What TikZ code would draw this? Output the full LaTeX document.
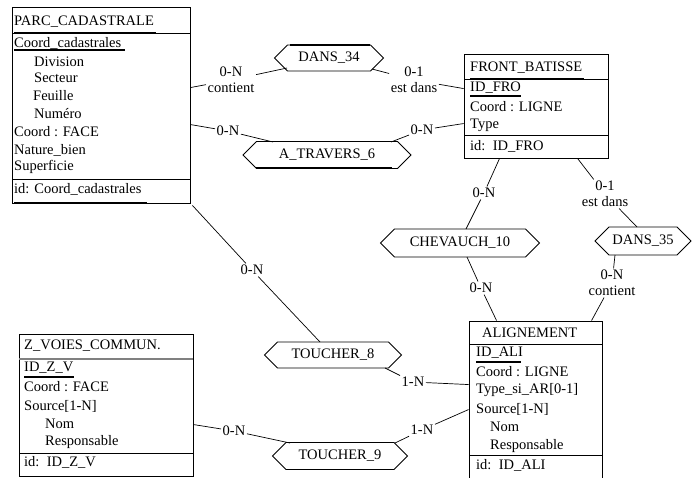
\documentclass[tikz,border=0pt]{standalone}
\usepackage{fontspec}
\setmainfont{Liberation Serif}
\usetikzlibrary{shapes.symbols}
\begin{document}
\begin{tikzpicture}[x=1pt,y=-1pt, font=\fontsize{14.5}{16}\selectfont,
  ent/.style={draw, line width=0.9pt, inner sep=0pt},
  att/.style={anchor=west, inner sep=0pt},
  rel/.style={draw, shape=signal, signal to=west and east, inner sep=0pt, line width=0.9pt, minimum height=26pt},
  lab/.style={inner sep=1.5pt, align=center},
  conn/.style={line width=0.7pt},
  bar/.style={line width=2.6pt},
  thin/.style={line width=0.8pt}]
\useasboundingbox (0,0) rectangle (694,477);

% ---------- entities ----------
\node[ent, minimum width=178pt, minimum height=196pt] (parc) at (101,105) {};
\node[ent, minimum width=144pt, minimum height=104pt] (front) at (536,106) {};
\node[ent, minimum width=133pt, minimum height=164pt] (align) at (535.5,403) {};
\node[ent, minimum width=174pt, minimum height=142pt] (zv) at (106,405) {};

% PARC_CADASTRALE
\draw[thin] (12,33) -- (190,33);
\draw[bar] (14,33) -- (156,33);
\draw[line width=1.6pt] (14,50) -- (125,50);
\draw[thin] (12,179) -- (190,179);
\draw[bar] (14,203) -- (147,203);
\node[att] (p1) at (14,22) {PARC\_CADASTRALE};
\node[att] (p2) at (14,43) {Coord\_cadastrales};
\node[att] (p3) at (34,62) {Division};
\node[att] (p4) at (34,78) {Secteur};
\node[att] (p5) at (33,96) {Feuille};
\node[att] (p6) at (34,114) {Numéro};
\node[att] (p7) at (14,132) {Coord : FACE};
\node[att] (p8) at (14,150) {Nature\_bien};
\node[att] (p9) at (14,167) {Superficie};
\node[att] (p10) at (14,189) {id: Coord\_cadastrales};

% FRONT_BATISSE
\draw[thin] (464,79) -- (608,79);
\draw[bar] (470,79) -- (584,79);
\draw[line width=2pt] (470,96) -- (521,96);
\draw[thin] (464,135) -- (608,135);
\node[att] (f1) at (470,68) {FRONT\_BATISSE};
\node[att] (f2) at (470,88) {ID\_FRO};
\node[att] (f3) at (470,107) {Coord : LIGNE};
\node[att] (f4) at (470,125) {Type};
\node[att] (f5) at (470,146) {id:\ \ ID\_FRO};

% ALIGNEMENT
\draw[thin] (469,344) -- (602,344);
\draw[line width=2pt] (476,362) -- (521,362);
\draw[thin] (469,455) -- (602,455);
\node[att] (a1) at (482,333) {ALIGNEMENT};
\node[att] (a2) at (476,353) {ID\_ALI};
\node[att] (a3) at (476,372) {Coord : LIGNE};
\node[att] (a4) at (476,390) {Type\_si\_AR[0-1]};
\node[att] (a5) at (476,409) {Source[1-N]};
\node[att] (a6) at (490,427) {Nom};
\node[att] (a7) at (490,446) {Responsable};
\node[att] (a8) at (476,465) {id:\ \ ID\_ALI};

% Z_VOIES_COMMUN.
\draw[line width=1.2pt, gray] (19,359) -- (193,359);
\draw[line width=2pt] (24,377) -- (74,377);
\draw[thin] (19,453) -- (193,453);
\node[att] (z1) at (24,346) {Z\_VOIES\_COMMUN.};
\node[att] (z2) at (24,368) {ID\_Z\_V};
\node[att] (z3) at (24,387) {Coord : FACE};
\node[att] (z4) at (24,406) {Source[1-N]};
\node[att] (z5) at (45,424) {Nom};
\node[att] (z6) at (45,442) {Responsable};
\node[att] (z7) at (24,462) {id:\ \ ID\_Z\_V};

% ---------- relationships ----------
\node[rel, minimum width=109pt] (d34) at (329,58) {DANS\_34};
\node[rel, minimum width=168pt, minimum height=27pt] (at6) at (327,155) {A\_TRAVERS\_6};
\node[rel, minimum width=159pt, minimum height=28pt] (ch10) at (460,243) {CHEVAUCH\_10};
\node[rel, minimum width=96pt, minimum height=28pt] (d35) at (643,241) {DANS\_35};
\node[rel, minimum width=137pt] (t8) at (333,355) {TOUCHER\_8};
\node[rel, minimum width=135pt, minimum height=27pt] (t9) at (340,456) {TOUCHER\_9};
\draw[line width=2.4pt] (256,168) -- (392,168);
\draw[line width=1.6pt] (290,45) -- (370,45);

% ---------- labels ----------
\node[lab] (l1) at (231,80) {0-N\\contient};
\node[lab] (l2) at (414,80) {0-1\\est dans};
\node[lab] (l3) at (228,131) {0-N};
\node[lab] (l4) at (422,130) {0-N};
\node[lab] (l5) at (484,193) {0-N};
\node[lab] (l6) at (481,288) {0-N};
\node[lab] (l7) at (605,194) {0-1\\est dans};
\node[lab] (l8) at (612,283) {0-N\\contient};
\node[lab] (l9) at (252,270) {0-N};
\node[lab] (l10) at (413,382) {1-N};
\node[lab] (l11) at (234,431) {0-N};
\node[lab] (l12) at (422,430) {1-N};

% ---------- connectors ----------
\draw[conn] ([yshift=-81pt]parc.north east) -- (l1) -- ([xshift=-42pt,yshift=-10pt]d34.center);
\draw[conn] ([xshift=43pt,yshift=-11pt]d34.center) -- (l2) -- ([yshift=-35pt]front.north west);
\draw[conn] ([yshift=-118pt]parc.north east) -- (l3) -- ([xshift=-54pt,yshift=13pt]at6.center);
\draw[conn] ([xshift=64pt,yshift=13pt]at6.center) -- (l4) -- ([yshift=-70pt]front.north west);
\draw[conn] ([xshift=36pt]front.south west) -- (l5) -- ([xshift=6pt,yshift=14pt]ch10.center);
\draw[conn] ([xshift=7pt,yshift=-14pt]ch10.center) -- (l6) -- ([xshift=28pt]align.north west);
\draw[conn] ([xshift=114pt]front.south west) -- (l7) -- ([xshift=-6pt,yshift=14pt]d35.center);
\draw[conn] ([xshift=-28pt,yshift=-14pt]d35.center) -- (l8) -- ([xshift=123pt]align.north west);
\draw[conn] ([xshift=2pt,yshift=-2pt]parc.south east) -- (l9) -- ([xshift=-13pt,yshift=13pt]t8.center);
\draw[conn] ([xshift=52pt,yshift=-13pt]t8.center) -- (l10) -- ([yshift=-64pt]align.north west);
\draw[conn] ([yshift=-91pt]zv.north east) -- (l11) -- ([xshift=-50pt,yshift=13pt]t9.center);
\draw[conn] ([xshift=55pt,yshift=13pt]t9.center) -- (l12) -- ([yshift=-89pt]align.north west);
\end{tikzpicture}
\end{document}
